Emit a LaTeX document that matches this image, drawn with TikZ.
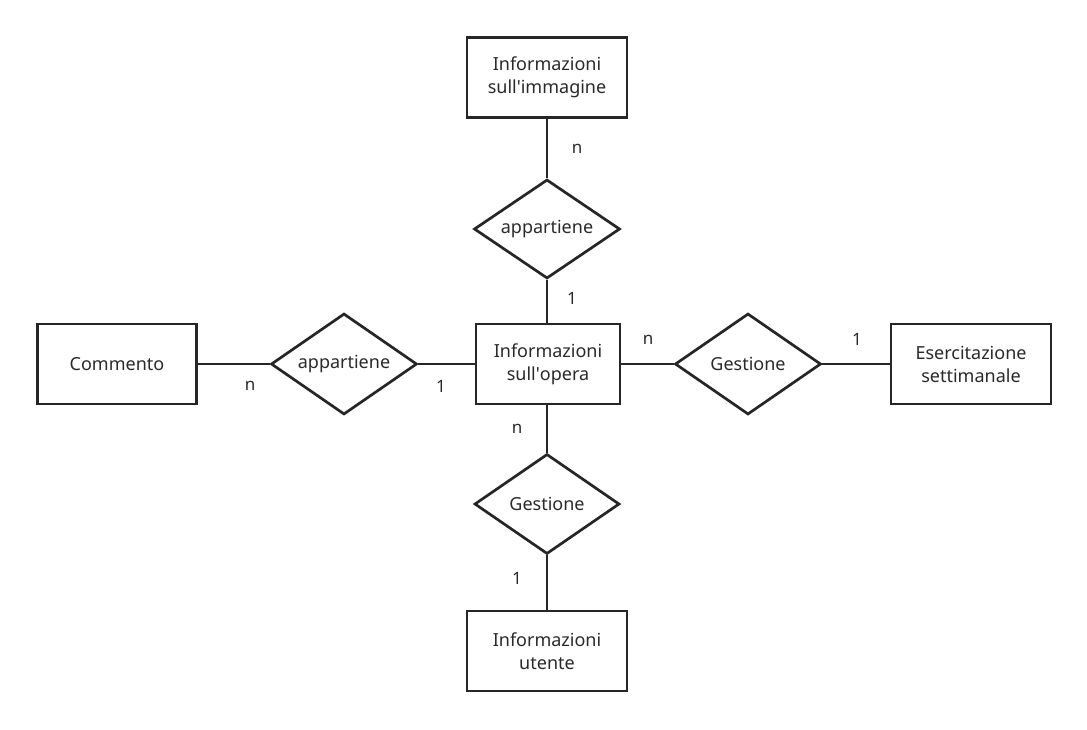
\documentclass[tikz,border=0pt]{standalone}
\usepackage{fontspec}
\setmainfont{Noto Sans}
\usetikzlibrary{shapes.geometric}
\definecolor{ink}{HTML}{262626}
\definecolor{txt}{HTML}{2A2A2A}
\begin{document}
\begin{tikzpicture}[x=1pt,y=-1pt,
  entity/.style={draw=ink,line width=2.7pt,fill=white,minimum width=160pt,minimum height=80pt,inner sep=0pt,align=center,text=txt,font=\fontsize{18}{23}\selectfont},
  relation/.style={draw=ink,line width=2.7pt,diamond,aspect=1.47,minimum width=146pt,minimum height=99pt,inner sep=0pt,text=txt,font=\fontsize{18}{23}\selectfont},
  conn/.style={draw=ink,line width=2.7pt},
  card/.style={text=txt,font=\fontsize{17}{20}\selectfont,inner sep=0pt}]
\useasboundingbox[fill=white] (0,0) rectangle (1087,729);
\node[entity] (img) at (547,77.5) {Informazioni\\sull\textquotesingle immagine};
\node[relation] (r1) at (547,229) {appartiene};
\node[entity,minimum width=144pt] (opera) at (548,364) {Informazioni\\sull\textquotesingle opera};
\node[entity,minimum width=159pt] (comm) at (117,364) {Commento};
\node[relation,minimum height=101pt] (r2) at (344,364) {appartiene};
\node[relation,minimum height=101pt] (r3) at (748,364) {Gestione};
\node[entity] (eserc) at (971,364) {Esercitazione\\settimanale};
\node[relation,minimum width=145pt,minimum height=100pt] (r4) at (547,504) {Gestione};
\node[entity] (utente) at (547,651) {Informazioni\\utente};
\draw[conn] (img.south) -- (r1.north);
\draw[conn] (r1.south) -- (r1.south |- opera.north);
\draw[conn] (comm.east) -- (r2.west);
\draw[conn] (r2.east) -- (opera.west);
\draw[conn] (opera.east) -- (r3.west);
\draw[conn] (r3.east) -- (eserc.west);
\draw[conn] (r4.north |- opera.south) -- (r4.north);
\draw[conn] (r4.south) -- (utente.north);
\node[card] (c1) at (577,149) {n};
\node[card] (c2) at (572,298) {1};
\node[card] (c3) at (250,386) {n};
\node[card] (c4) at (441,386) {1};
\node[card] (c5) at (648,340) {n};
\node[card] (c6) at (857,339) {1};
\node[card] (c7) at (517,429) {n};
\node[card] (c8) at (517,578) {1};
\end{tikzpicture}
\end{document}
